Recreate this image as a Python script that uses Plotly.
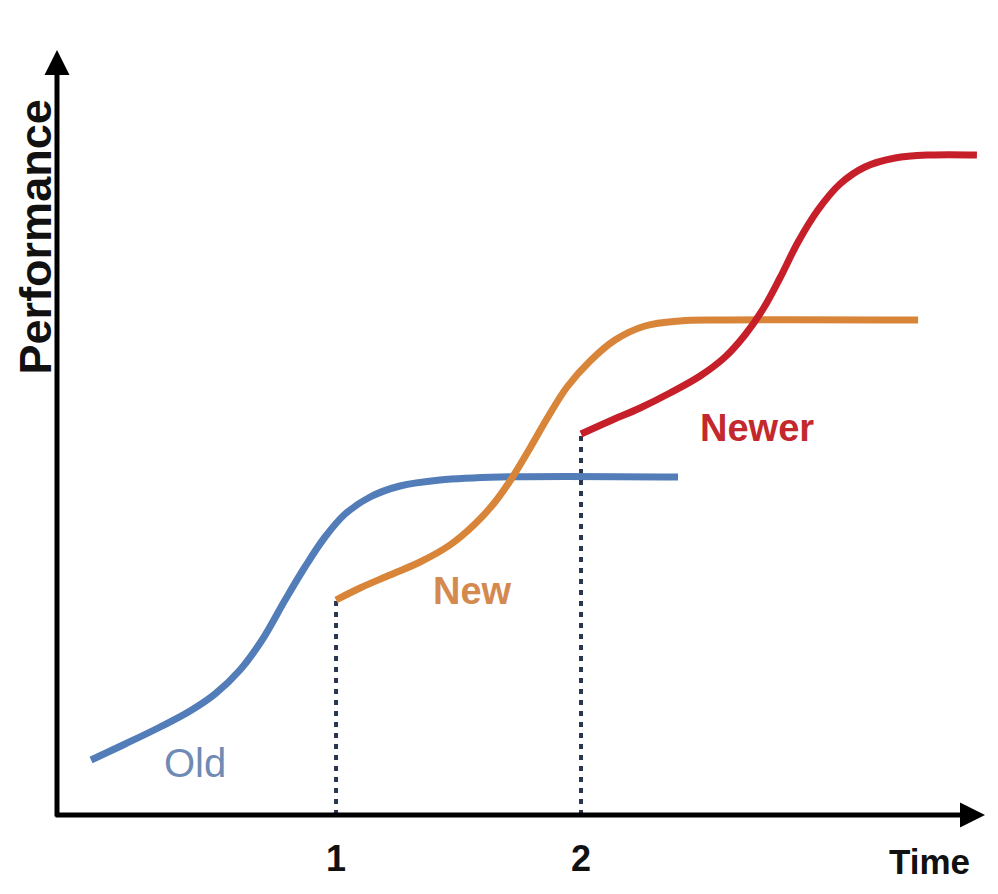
import plotly.graph_objects as go

# --- data (time in "generation" units, performance in arbitrary units) ---
old_t = [0.0, 0.139, 0.282, 0.404, 0.506, 0.608, 0.698, 0.792, 0.873, 0.955,
         1.037, 1.139, 1.261, 1.424, 1.669, 2.396]
old_perf = [0.55, 0.71, 0.88, 1.04, 1.21, 1.45, 1.75, 2.15, 2.48, 2.78,
            3.01, 3.18, 3.29, 3.35, 3.38, 3.38]

new_t = [1.0, 1.098, 1.220, 1.343, 1.465, 1.567, 1.649, 1.718, 1.792, 1.865,
         1.943, 2.037, 2.139, 2.261, 2.404, 2.567, 3.376]
new_perf = [2.15, 2.27, 2.40, 2.53, 2.70, 2.91, 3.13, 3.37, 3.67, 3.98,
            4.28, 4.54, 4.75, 4.89, 4.94, 4.95, 4.95]

newer_t = [2.0, 2.118, 2.241, 2.363, 2.486, 2.588, 2.669, 2.743, 2.812, 2.886,
           2.967, 3.057, 3.159, 3.282, 3.424, 3.616]
newer_perf = [3.81, 3.94, 4.07, 4.22, 4.39, 4.58, 4.80, 5.06, 5.37, 5.73,
              6.05, 6.31, 6.48, 6.57, 6.60, 6.60]

tick_vals = [1, 2]
tick_text = ["1", "2"]

# axis extents
X_MIN, X_MAX = -0.139, 3.649
Y_MIN, Y_MAX = 0.0, 7.65

BLUE = "#527db8"
ORANGE = "#d8853a"
RED = "#c61f2a"
DOT = "#2a3550"

fig = go.Figure()

# dotted drop lines at the switch points
for t0, p0 in [(new_t[0], new_perf[0]), (newer_t[0], newer_perf[0])]:
    fig.add_trace(go.Scatter(x=[t0, t0], y=[Y_MIN, p0], mode="lines",
                             line=dict(color=DOT, width=4, dash="5px,6px"),
                             hoverinfo="skip", showlegend=False))

fig.add_trace(go.Scatter(x=old_t, y=old_perf, mode="lines", name="Old",
                         line=dict(color=BLUE, width=7, shape="spline"), showlegend=False))
fig.add_trace(go.Scatter(x=new_t, y=new_perf, mode="lines", name="New",
                         line=dict(color=ORANGE, width=7, shape="spline"), showlegend=False))
fig.add_trace(go.Scatter(x=newer_t, y=newer_perf, mode="lines", name="Newer",
                         line=dict(color=RED, width=7, shape="spline"), showlegend=False))

ann = []
# axes drawn as arrows
ann.append(dict(x=X_MAX, y=Y_MIN, ax=X_MIN - 0.012, ay=Y_MIN, xref="x", yref="y",
                axref="x", ayref="y", text="", showarrow=True, arrowhead=2,
                arrowsize=1, arrowwidth=5, arrowcolor="black"))
ann.append(dict(x=X_MIN, y=Y_MAX, ax=X_MIN, ay=Y_MIN - 0.03, xref="x", yref="y",
                axref="x", ayref="y", text="", showarrow=True, arrowhead=2,
                arrowsize=1, arrowwidth=5, arrowcolor="black"))

bold = "Liberation Sans Narrow, Arial Narrow, Liberation Sans, Arial"
for v, t in zip(tick_vals, tick_text):
    ann.append(dict(x=v, y=Y_MIN, xref="x", yref="y", text=f"<b>{t}</b>", showarrow=False,
                    yshift=-43, font=dict(family=bold, size=36, color="#111")))
ann.append(dict(x=3.424, y=Y_MIN, xref="x", yref="y", text="<b>Time</b>", showarrow=False,
                yshift=-46, font=dict(family=bold, size=35, color="#111")))
ann.append(dict(x=0, y=0.755, xref="paper", yref="paper", text="<b>Performance</b>",
                showarrow=False, textangle=-90, xshift=-22,
                xanchor="center", yanchor="middle",
                font=dict(family="Liberation Sans, Arial", size=45, color="#111")))

# curve labels
ann.append(dict(x=0.424, y=0.52, xref="x", yref="y", text="Old", showarrow=False,
                font=dict(family="Liberation Sans, Arial", size=40, color="#6f8ab5")))
ann.append(dict(x=1.555, y=2.24, xref="x", yref="y", text="<b>New</b>", showarrow=False,
                font=dict(family="Liberation Sans, Arial", size=38, color="#d4894e")))
ann.append(dict(x=2.718, y=3.87, xref="x", yref="y", text="<b>Newer</b>", showarrow=False,
                font=dict(family="Liberation Sans, Arial", size=38, color="#c3282d")))

# the page body adds an 8px offset, so margins are trimmed by that much
fig.update_layout(
    width=998, height=894,
    margin=dict(l=49, r=21, t=42, b=87),
    paper_bgcolor="white", plot_bgcolor="white",
    xaxis=dict(range=[X_MIN, X_MAX], visible=False),
    yaxis=dict(range=[Y_MIN, Y_MAX], visible=False),
    annotations=ann,
    hovermode=False,
)

fig.write_html("out.html")
